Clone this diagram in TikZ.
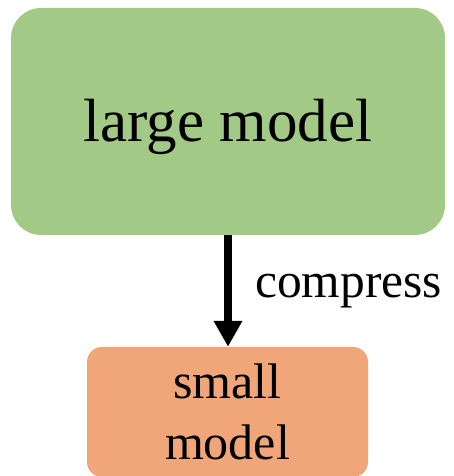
\documentclass[tikz,border=0pt]{standalone}
\usepackage{fontspec}
\setmainfont{Liberation Serif}
\usetikzlibrary{arrows.meta}
\definecolor{lgreen}{HTML}{A3C986}
\definecolor{lorange}{HTML}{F0A678}
\begin{document}
\begin{tikzpicture}[x=1pt,y=1pt,
  bigbox/.style={fill=lgreen, draw=none, rounded corners=30pt, minimum width=434pt, minimum height=227pt, inner sep=0pt, font=\fontsize{61}{61}\selectfont},
  smallbox/.style={fill=lorange, draw=none, rounded corners=15pt, minimum width=281pt, minimum height=130pt, inner sep=0pt, align=center, font=\fontsize{50}{63}\selectfont},
  conn/.style={line width=7.5pt, -{Triangle[length=26pt,width=27pt]}}]
\useasboundingbox (0,0) rectangle (454,476);
\node[bigbox] (large) at (228,354.5) {\raisebox{-5pt}[\height][\depth]{large model}};
\node[smallbox] (small) at (227.5,64) {small\\[-2pt]model};
\draw[conn] (large.south -| 228,0) -- (small.north -| 228,0) node[midway, right=20pt, font=\fontsize{49.5}{50}\selectfont] (lbl) {compress};
\end{tikzpicture}
\end{document}
